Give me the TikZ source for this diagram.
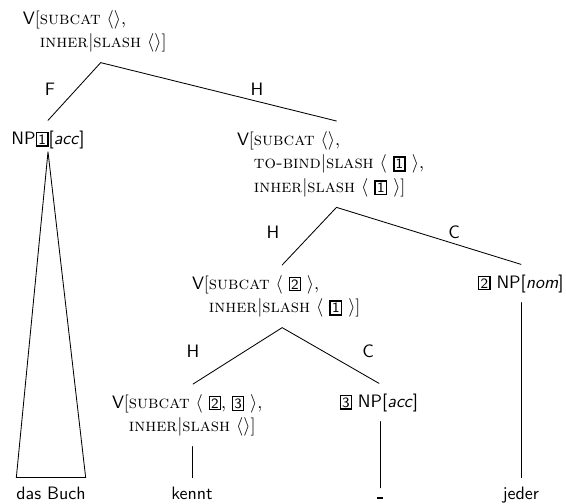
\documentclass[tikz,border=0pt]{standalone}
\usetikzlibrary{calc}

% structure-sharing tags
\newcommand{\tagn}[1]{{\setlength{\fboxsep}{0.7pt}\setlength{\fboxrule}{0.65pt}\fbox{\sffamily\fontsize{8.4}{9}\selectfont #1}}}
\newcommand{\tagb}[1]{{\setlength{\fboxsep}{0.6pt}\setlength{\fboxrule}{1pt}\fbox{\sffamily\fontsize{8.4}{9}\selectfont #1}}}
\newcommand{\feat}[1]{\textsc{#1}}
\newcommand{\ctg}[1]{\textsf{#1}}
\newcommand{\pipe}{$|$}

\tikzset{
  avm/.style={align=left, anchor=north west, inner sep=0pt, outer xsep=0pt,
    outer ysep=6pt, font=\fontsize{10.6}{14}\selectfont},
  cnode/.style={anchor=base, inner sep=0pt, outer xsep=0pt, outer ysep=6pt,
    font=\fontsize{10.6}{13}\sffamily},
  term/.style={anchor=base, inner sep=0pt, outer xsep=0pt, outer ysep=5.3pt,
    font=\fontsize{10.6}{13}\sffamily},
  lbl/.style={font=\fontsize{10.6}{13}\sffamily, inner sep=0pt},
  arc/.style={line width=0.5pt, line cap=round},
}

\begin{document}
\begin{tikzpicture}[x=0.59pt, y=-0.59pt]
  \useasboundingbox (0,0) rectangle (566,503);

  % categories
  \node[avm] (root) at (23,0)
    {\ctg{V}[\feat{subcat} $\langle\rangle$,\\
     \phantom{\ctg{V}[}\feat{inher}\pipe\feat{slash} $\langle\rangle$]};
  \node[cnode] (np1) at (48,144) {NP\tagb{1}[\textit{acc}]};
  \node[avm] (vp2) at (237,121)
    {\ctg{V}[\feat{subcat} $\langle\rangle$,\\
     \phantom{\ctg{V}[}\feat{to-bind}\pipe\feat{slash} $\langle$ \tagb{1} $\rangle$,\\
     \phantom{\ctg{V}[}\feat{inher}\pipe\feat{slash} $\langle$ \tagb{1} $\rangle$]};
  \node[avm] (vp3) at (192,265)
    {\ctg{V}[\feat{subcat} $\langle$ \tagn{2} $\rangle$,\\
     \phantom{\ctg{V}[}\feat{inher}\pipe\feat{slash} $\langle$ \tagb{1} $\rangle$]};
  \node[cnode] (nom) at (521,288) {\tagn{2} NP[\textit{nom}]};
  \node[avm] (vp4) at (112,384)
    {\ctg{V}[\feat{subcat} $\langle$ \tagn{2}, \tagn{3} $\rangle$,\\
     \phantom{\ctg{V}[}\feat{inher}\pipe\feat{slash} $\langle\rangle$]};
  \node[cnode] (np3) at (379,407) {\tagn{3} NP[\textit{acc}]};

  % words
  \node[term] (w1) at (51,499) {das Buch};
  \node[term] (w2) at (192,499) {kennt};
  \node[term] (w3) at (380,499) {\rule{3.5pt}{1.3pt}};
  \node[term] (w4) at (521,499) {jeder};

  % branches
  \draw[arc] ([xshift=3.5pt]root.south) -- (np1.north);
  \draw[arc] ([xshift=3.5pt]root.south) -- ([xshift=3.5pt]vp2.north);
  \draw[arc] ([xshift=3.5pt]vp2.south) -- ([xshift=3.5pt]vp3.north);
  \draw[arc] ([xshift=3.5pt]vp2.south) -- (nom.north);
  \draw[arc] ([xshift=3.5pt]vp3.south) -- ([xshift=3.5pt]vp4.north);
  \draw[arc] ([xshift=3.5pt]vp3.south) -- (np3.north);
  \draw[arc] (vp4.south -| w2.north) -- (w2.north);
  \draw[arc] (np3.south -| w3.north) -- (w3.north);
  \draw[arc] (nom.south) -- (w4.north);
  \draw[arc, line join=round] ([yshift=4pt]np1.south) -- (w1.north west)
    -- (w1.north east) -- cycle;

  % branch labels
  \node[lbl] (lF)  at (50,89)   {F};
  \node[lbl] (lH1) at (257,89)  {H};
  \node[lbl] (lH2) at (273,232) {H};
  \node[lbl] (lC1) at (454,232) {C};
  \node[lbl] (lH3) at (193,351) {H};
  \node[lbl] (lC2) at (368,351) {C};
\end{tikzpicture}
\end{document}
